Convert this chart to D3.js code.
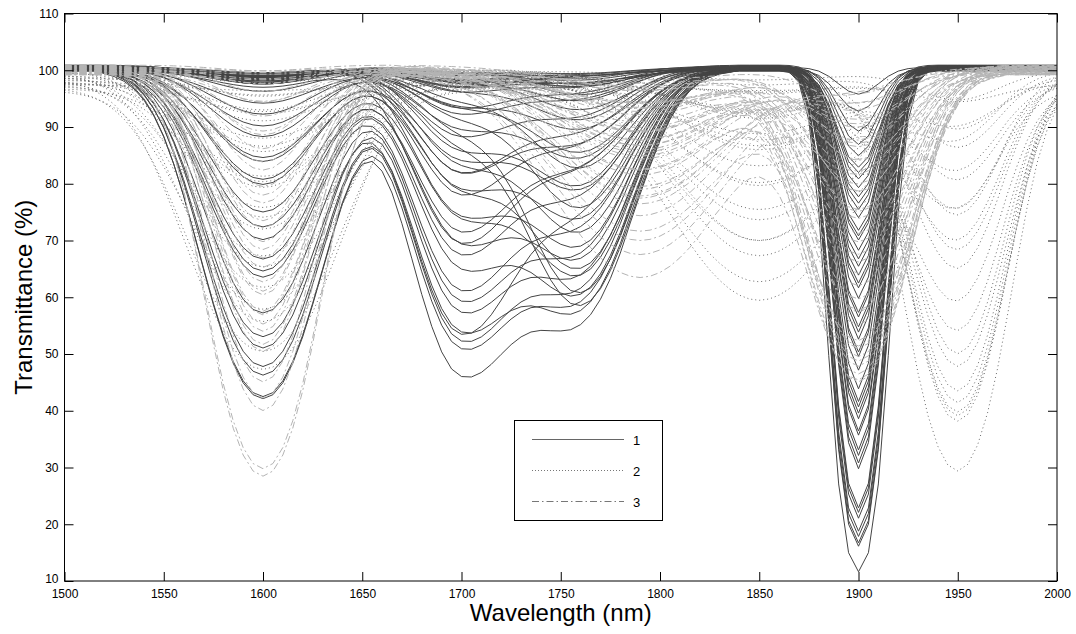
<!DOCTYPE html>
<html>
<head>
<meta charset="utf-8">
<script src="https://cdnjs.cloudflare.com/ajax/libs/d3/7.8.5/d3.min.js"></script>
<style>
  body { margin: 0; background: #fff; }
  svg { display: block; }
  text { font-family: "Liberation Sans", Arial, sans-serif; fill: #000; }
</style>
</head>
<body>
<div id="chart"></div>
<script>
// Wavelength grid (nm) the spectra are drawn on
const wavelengths = d3.range(1500, 2001, 5);

// Tick labels
const xTickValues = [1500, 1550, 1600, 1650, 1700, 1750, 1800, 1850, 1900, 1950, 2000];
const yTickValues = [10, 20, 30, 40, 50, 60, 70, 80, 90, 100, 110];
const legendLabels = ["1", "2", "3"];

// Band profiles: relative absorbance at 0, 5, 10 ... nm from the band centre
const prof10 = [1, .882, .607, .325, .135, .044, .011, .002];
const prof20 = [1, .969, .882, .755, .607, .458, .325, .216, .135, .080, .044, .023, .011];
const prof22 = [1, .975, .902, .793, .662, .524, .395, .282, .191, .123, .076, .044, .024, .013, .006];
const prof24 = [1, .979, .917, .823, .707, .581, .458, .345, .249, .172, .114, .072, .044, .026, .014, .008];
const prof25 = [1, .981, .926, .841, .735, .618, .500, .390, .292, .211, .146, .098, .063, .039, .023, .013, .007];
const prof26 = [1, .982, .929, .847, .744, .630, .514, .404, .306, .224, .157, .107, .070, .044, .027, .016, .009];
const prof32 = [1, .988, .952, .896, .823, .737, .645, .550, .458, .372, .295, .228, .172, .127, .091, .064, .044, .029, .019, .012, .008];
const prof40 = [1, .992, .969, .932, .882, .823, .755, .682, .607, .531, .458, .389, .325, .267, .216, .172, .135, .105, .080, .060, .044, .032, .023, .016, .011];

// Series 1 (solid): transmittance minimum of each band, and baseline level
const solidMin1600 = [42, 42.5, 46, 47.7, 50.7, 53, 57, 63.6, 64.3, 66.6, 69.6, 72.4, 74.8, 79.4, 80.7, 83.6, 84.7, 87.7, 90, 91.8,
  94.2, 96, 97, 98, 97.5, 99, 98.5, 97, 98, 99, 98, 97.5, 99, 98.5, 97, 98, 99, 98.5, 97.5, 98,
  99, 98.5, 97, 98, 99, 98.5, 97.5, 98, 99, 98.5];
const solidMin1700 = [47, 52, 53, 55, 58, 54, 60, 62, 66, 68, 70, 72, 75, 78, 80, 82, 85, 88, 90, 92,
  94, 96, 97, 88, 90, 75, 80, 70, 84, 92, 86, 95, 82, 94, 96, 98, 93, 97, 99, 98,
  99, 98, 99, 97, 98, 99, 98, 99, 97, 98];
const solidMin1760 = [58, 62, 64, 60, 66, 78, 70, 75, 62, 80, 68, 85, 65, 88, 75, 90, 80, 92, 85, 95,
  90, 97, 94, 59, 61, 70, 66, 85, 72, 76, 80, 83, 88, 86, 91, 93, 96, 98, 95, 97,
  99, 98, 97, 99, 98, 99, 97, 98, 99, 99];
const solidMin1900 = [41.5, 63.9, 29.6, 11.6, 71.3, 50.3, 22, 83, 38.4, 57.2, 16, 77.7, 33, 61.3, 92.7, 18.7, 47.2, 69.6, 39.5, 86.5,
  54.8, 21, 74.8, 16.7, 65.2, 43.6, 80.7, 35.7, 59.5, 17.8, 66.3, 49.5, 88.9, 22.9, 70.4, 52.5, 76.2, 30.8, 62, 84.7,
  36.4, 56.3, 73.6, 40.6, 79.4, 95.3, 53.7, 67.8, 81.9, 32];
const solidBase = [100.3, 100.0, 100.6, 100.2, 100.7, 100.1, 100.4, 99.9, 100.5, 100.2, 100.8, 100.0, 100.3, 100.6, 100.1, 100.4, 99.9, 100.7, 100.2, 100.5,
  100.0, 100.3, 100.9, 100.1, 100.4, 100.6, 100.2, 100.0, 100.5, 100.3, 100.7, 100.1, 100.4, 99.9, 100.6, 100.2, 100.5, 100.0, 100.8, 100.3,
  100.1, 100.4, 100.6, 100.2, 99.9, 100.5, 100.3, 100.7, 100.1, 100.4];

// Series 2 (dotted)
const dotMin1600 = [48, 52, 56, 60, 63, 66, 69, 72, 75, 78, 80, 82, 84, 86, 88, 90, 92, 93, 94, 95, 96, 97, 98, 99];
const dotMin1850 = [88, 61.3, 92, 65, 95, 68, 90, 70, 97, 72, 93, 77, 96, 80, 94, 82, 84, 86, 75, 91, 98, 97.5, 98.5, 99];
const dotMin1950 = [30, 62.5, 38.5, 80, 40, 72, 41, 89, 42, 56.5, 44, 85, 49.5, 66, 51, 93, 69.6, 75, 78, 83, 87, 91, 95, 97];
const dotBase = [98.5, 97, 99.5, 96.5, 98, 99, 97.5, 100, 98.8, 97.2, 99.2, 98, 96.8, 99.6, 98.4, 97.8, 99, 100, 98.2, 97.6, 99.4, 98.6, 99.8, 97.4];

// Series 3 (dash-dot, light grey)
const grayMin1600 = [28.5, 30, 39.8, 42.4, 45, 50, 52, 54, 55, 57, 58, 60, 61, 63, 65, 67, 68, 70, 72, 74,
  76, 78, 80, 82, 84, 86, 88, 90, 92, 94, 95, 96, 97, 98, 98.5, 99, 99, 99.5, 99.5, 99.5];
const grayMin1790 = [90, 94, 85, 88, 92, 96, 80, 86, 93, 78, 95, 82, 89, 97, 84, 91, 76, 87, 98, 83,
  92, 79, 95, 74, 88, 97, 81, 90, 85, 96, 72, 93, 77, 98, 70, 86, 68, 94, 63.6, 89];
const grayMin1900 = [70, 85, 55, 92, 62, 78, 47, 88, 66, 95, 50, 82, 74, 58, 90, 48, 80, 68, 94, 52,
  86, 60, 76, 96, 49, 84, 45, 72, 91, 64, 53, 87, 93, 79, 97, 57, 83, 51, 46, 75];
const grayBase = [99.9, 99.3, 100.6, 99.6, 100.2, 100.9, 99.4, 100.0, 100.5, 99.8, 99.2, 100.7, 100.1, 99.5, 100.4, 99.9, 100.6, 99.7, 100.3, 99.3,
  100.8, 100.0, 99.4, 100.5, 99.8, 100.2, 100.7, 99.2, 99.9, 100.4, 99.5, 100.3, 100.6, 99.7, 100.0, 100.9, 99.3, 100.1, 99.8, 100.4];

// Bands: centre (nm) and left/right profile
const bands = {
  s1600: { center: 1600, left: prof25, right: prof25 },
  s1700: { center: 1700, left: prof22, right: prof26 },
  s1760: { center: 1760, left: prof24, right: prof24 },
  s1900: { center: 1900, left: prof10, right: prof10 },
  d1600: { center: 1600, left: prof32, right: prof32 },
  d1850: { center: 1850, left: prof40, right: prof40 },
  d1950: { center: 1950, left: prof20, right: prof20 },
  g1600: { center: 1600, left: prof22, right: prof22 },
  g1790: { center: 1790, left: prof40, right: prof40 },
  g1900: { center: 1900, left: prof22, right: prof22 }
};

function profileAt(band, w) {
  const d = w - band.center;
  const tbl = d < 0 ? band.left : band.right;
  const i = Math.abs(d) / 5;
  return i < tbl.length ? tbl[i] : 0;
}

// Absorbances of the bands add up; transmittance = base * 10^-A
function spectrum(base, comps) {
  return wavelengths.map(w => {
    let a = 0;
    comps.forEach(([band, tmin]) => {
      a += Math.log10(100 / tmin) * profileAt(band, w);
    });
    return [w, base * Math.pow(10, -a)];
  });
}

const solidCurves = solidMin1900.map((t, i) => spectrum(solidBase[i] ?? 100.3, [
  [bands.s1600, solidMin1600[i]], [bands.s1700, solidMin1700[i]],
  [bands.s1760, solidMin1760[i]], [bands.s1900, t]
]));
const dotCurves = dotMin1950.map((t, i) => spectrum(dotBase[i] ?? 98.5, [
  [bands.d1600, dotMin1600[i]], [bands.d1850, dotMin1850[i]], [bands.d1950, t]
]));
const grayCurves = grayMin1600.map((t, i) => spectrum(grayBase[i] ?? 100, [
  [bands.g1600, t], [bands.g1790, grayMin1790[i]], [bands.g1900, grayMin1900[i]]
]));

// Layout
const width = 1076, height = 634;
const margin = { left: 64.5, right: 1057, top: 13.5, bottom: 581 };

const svg = d3.select("#chart").append("svg")
  .attr("width", width)
  .attr("height", height);

const x = d3.scaleLinear().domain([1500, 2000]).range([margin.left, margin.right]);
const y = d3.scaleLinear().domain([10, 110]).range([margin.bottom, margin.top]);

svg.append("defs").append("clipPath").attr("id", "plot-clip")
  .append("rect")
  .attr("x", margin.left).attr("y", margin.top)
  .attr("width", margin.right - margin.left).attr("height", margin.bottom - margin.top);

const line = d3.line().x(d => x(d[0])).y(d => y(d[1]));

const plot = svg.append("g").attr("clip-path", "url(#plot-clip)");

// Series 1: solid dark grey
plot.append("g").selectAll("path")
  .data(solidCurves)
  .enter().append("path")
  .attr("d", line)
  .attr("fill", "none")
  .attr("stroke", "#444")
  .attr("stroke-width", 1);

// Series 2: dotted
plot.append("g").selectAll("path")
  .data(dotCurves)
  .enter().append("path")
  .attr("d", line)
  .attr("fill", "none")
  .attr("stroke", "#6a6a6a")
  .attr("stroke-width", 1)
  .attr("stroke-dasharray", "1,3");

// Series 3: light grey dash-dot
plot.append("g").selectAll("path")
  .data(grayCurves)
  .enter().append("path")
  .attr("d", line)
  .attr("fill", "none")
  .attr("stroke", "#b4b4b4")
  .attr("stroke-width", 1)
  .attr("stroke-dasharray", "7,3,2,3");

// Axes: inward ticks on all four sides
function styleAxis(g) {
  g.select(".domain").remove();
  g.selectAll(".tick line").attr("stroke", "#000");
  g.selectAll(".tick text").attr("font-size", 12).attr("fill", "#000");
}

svg.append("g")
  .attr("transform", `translate(0,${margin.bottom})`)
  .call(d3.axisBottom(x).tickValues(xTickValues).tickSize(-9).tickPadding(8).tickFormat(d3.format("d")))
  .call(styleAxis);
svg.append("g")
  .attr("transform", `translate(0,${margin.top})`)
  .call(d3.axisTop(x).tickValues(xTickValues).tickSize(-9).tickFormat(""))
  .call(styleAxis);
const yAxisG = svg.append("g")
  .attr("transform", `translate(${margin.left},0)`)
  .call(d3.axisLeft(y).tickValues(yTickValues).tickSize(-9).tickPadding(6).tickFormat(d3.format("d")))
  .call(styleAxis);
// lowest label sits just above the x labels, as in the original
yAxisG.selectAll(".tick text").filter(d => d === 10).attr("y", -2);
svg.append("g")
  .attr("transform", `translate(${margin.right},0)`)
  .call(d3.axisRight(y).tickValues(yTickValues).tickSize(-9).tickFormat(""))
  .call(styleAxis);

svg.append("rect")
  .attr("x", margin.left).attr("y", margin.top)
  .attr("width", margin.right - margin.left).attr("height", margin.bottom - margin.top)
  .attr("fill", "none")
  .attr("stroke", "#000")
  .attr("stroke-width", 1);

// Axis titles
svg.append("text")
  .attr("x", (margin.left + margin.right) / 2)
  .attr("y", 621)
  .attr("text-anchor", "middle")
  .attr("font-size", 24)
  .text("Wavelength (nm)");

svg.append("text")
  .attr("transform", `translate(32,${(margin.top + margin.bottom) / 2}) rotate(-90)`)
  .attr("text-anchor", "middle")
  .attr("font-size", 24)
  .text("Transmittance (%)");

// Legend
const legendStyles = [
  { stroke: "#666", dash: null },
  { stroke: "#777", dash: "1,2" },
  { stroke: "#777", dash: "7,3,1.5,3" }
];
const legend = svg.append("g");
legend.append("rect")
  .attr("x", 514.5).attr("y", 420.5)
  .attr("width", 148).attr("height", 100)
  .attr("fill", "#fff")
  .attr("stroke", "#000");

legendLabels.forEach((label, i) => {
  const ly = 439.5 + i * 31;
  legend.append("line")
    .attr("x1", 532).attr("x2", 624)
    .attr("y1", ly).attr("y2", ly)
    .attr("stroke", legendStyles[i].stroke)
    .attr("stroke-width", 1)
    .attr("stroke-dasharray", legendStyles[i].dash);
  legend.append("text")
    .attr("x", 633)
    .attr("y", ly + 5)
    .attr("font-size", 13)
    .text(label);
});
</script>
</body>
</html>
